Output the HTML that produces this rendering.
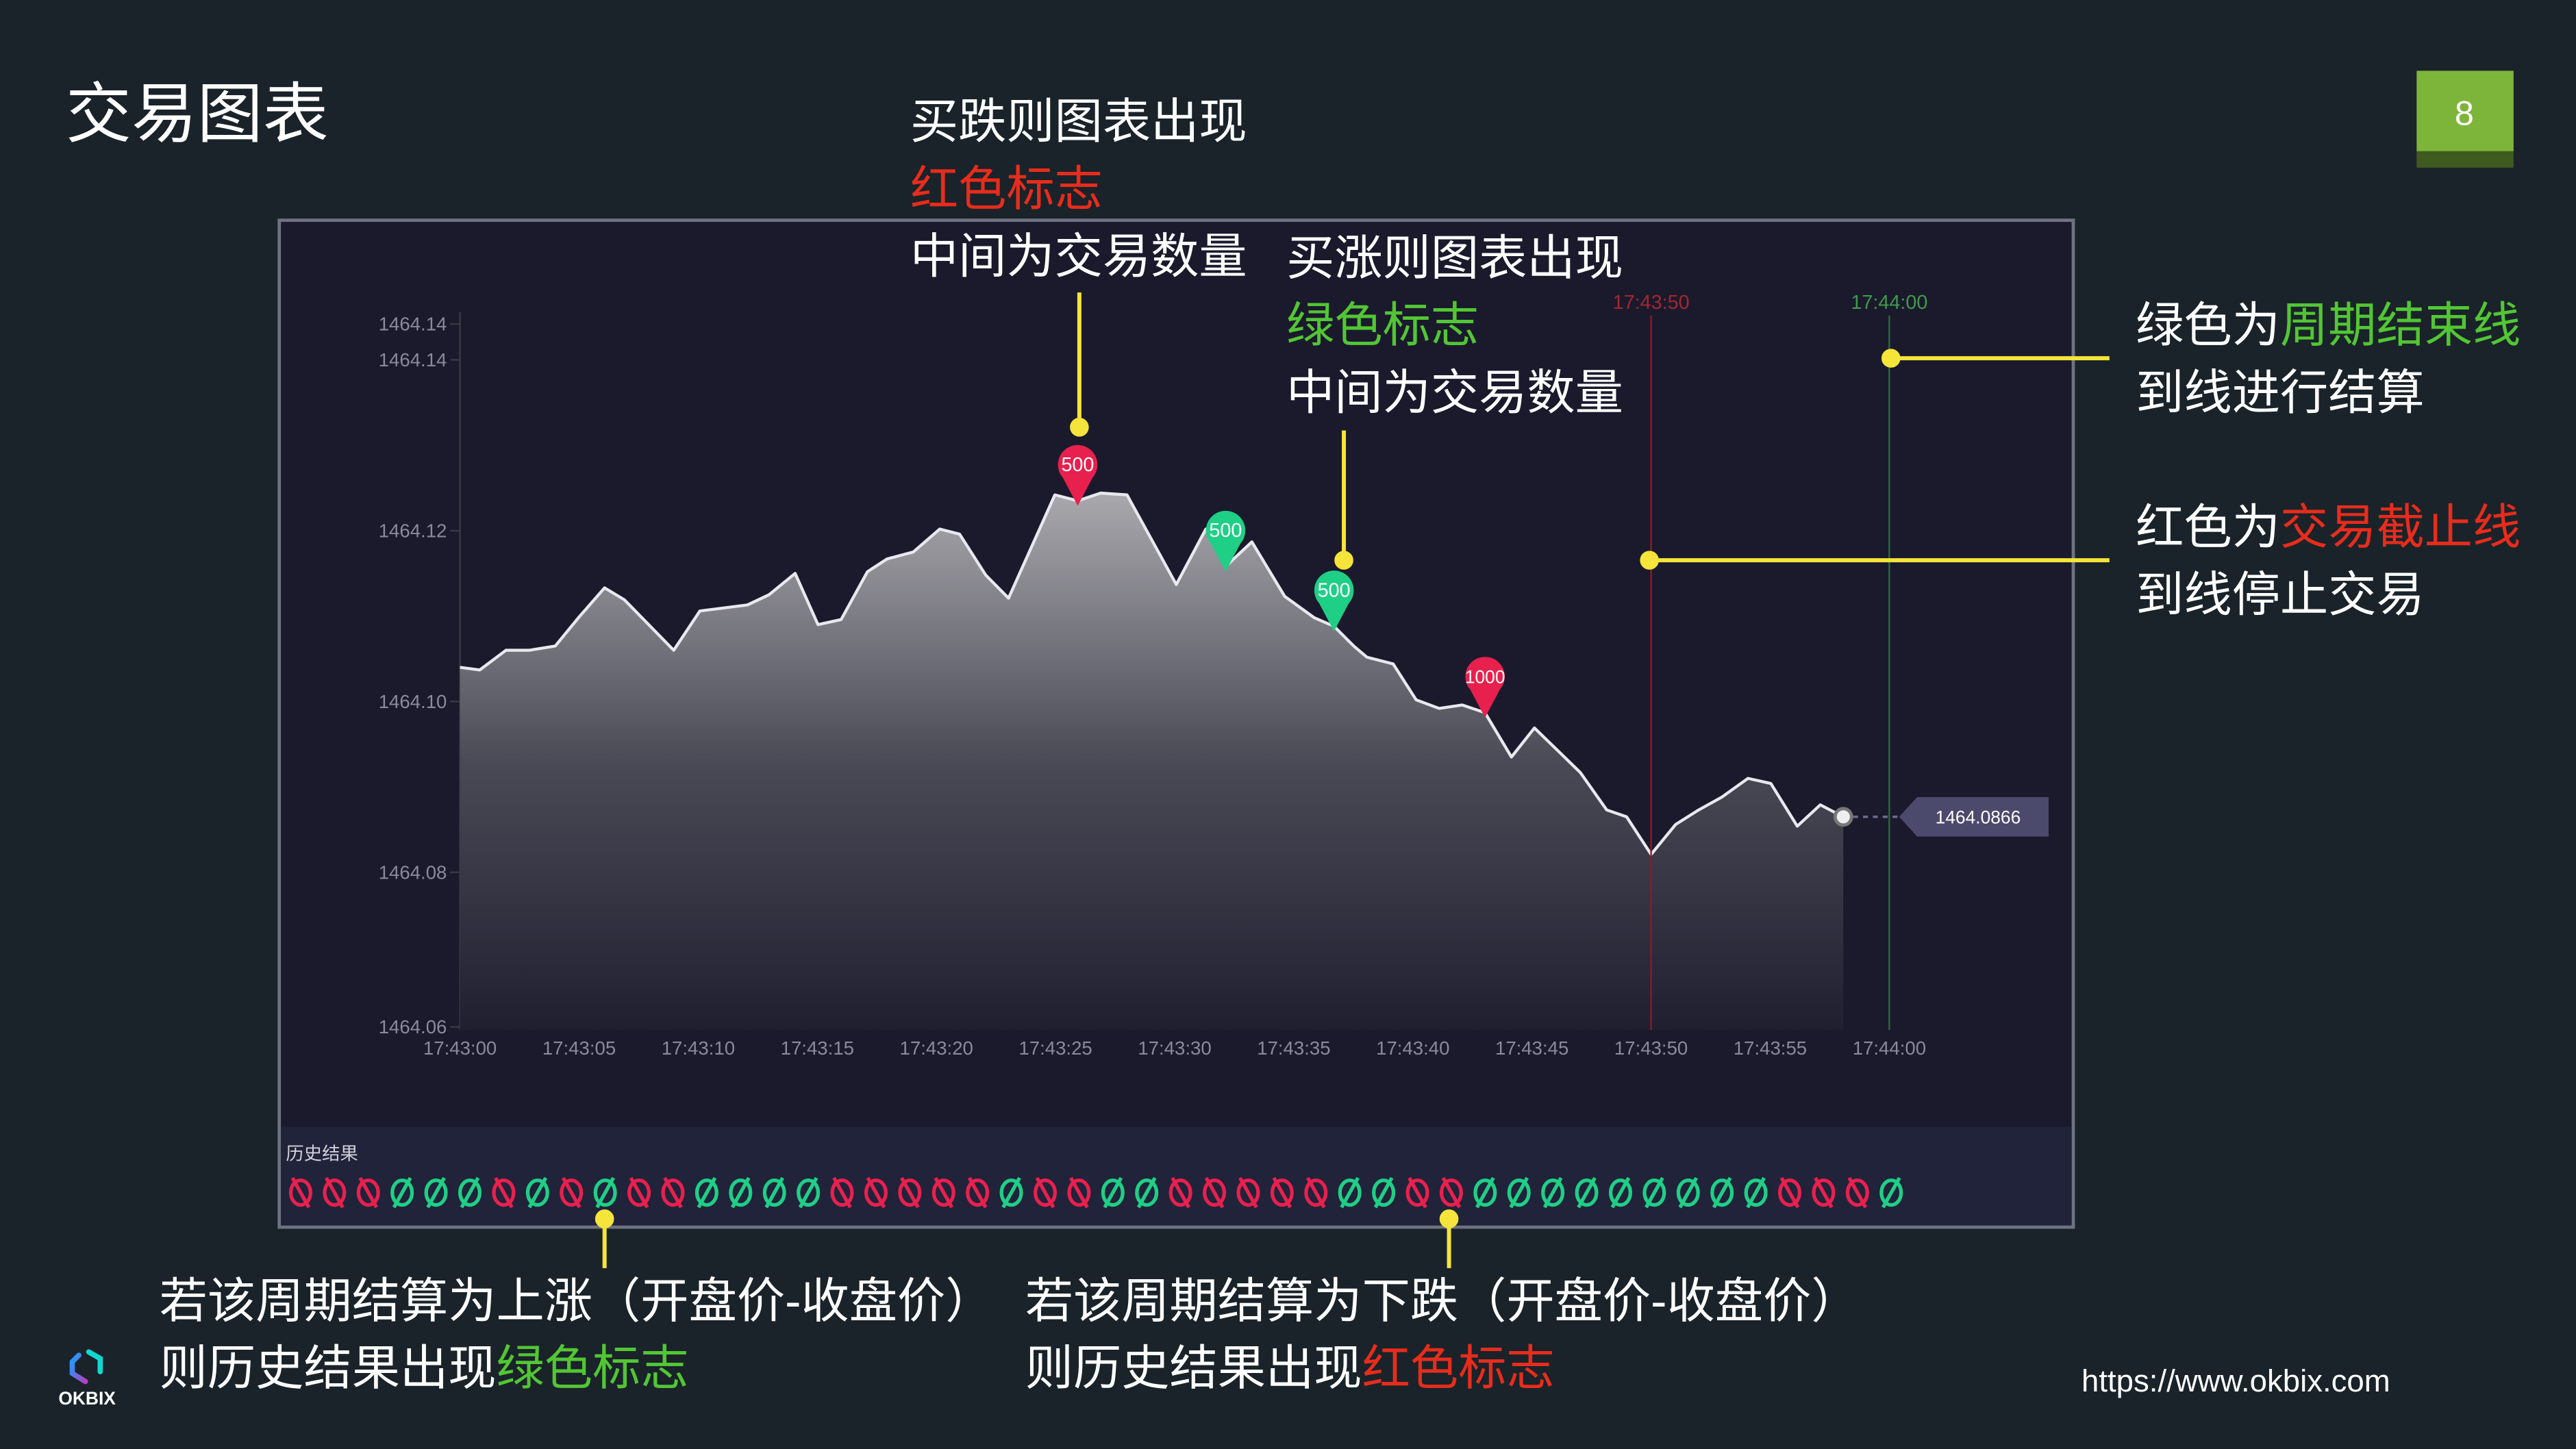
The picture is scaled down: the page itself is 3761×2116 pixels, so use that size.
<!DOCTYPE html>
<html><head><meta charset="utf-8"><style>
html,body{margin:0;padding:0;background:#1a2329;}
svg{display:block}
text{font-family:"Liberation Sans","Noto Sans CJK SC",sans-serif;}
</style></head><body>
<svg id="s" width="3761" height="2116" viewBox="0 0 1568 882" xmlns="http://www.w3.org/2000/svg">
<defs>
<linearGradient id="ag" x1="0" y1="0" x2="0" y2="1">
<stop offset="0" stop-color="#a9a8ad"/><stop offset="0.5" stop-color="#4a4a56"/><stop offset="1" stop-color="#1f1f30"/>
</linearGradient>
<linearGradient id="lg" x1="0" y1="0" x2="1" y2="1">
<stop offset="0" stop-color="#1aa0ff"/><stop offset="1" stop-color="#b040c0"/>
</linearGradient>
</defs>
<rect width="1568" height="882" fill="#1a2329"/>
<text x="40" y="83" font-size="40" fill="#ffffff">交易图表</text>
<g>
<rect x="1471" y="43" width="59" height="49" fill="#7db53a"/>
<rect x="1471" y="92" width="59" height="10" fill="#3f5a1e"/>
<text x="1500" y="76" font-size="21" fill="#fff" text-anchor="middle">8</text>
</g>
<g>
<rect x="170" y="134" width="1092" height="613" fill="#1a1a2c" stroke="#6f7280" stroke-width="2"/>
<rect x="171" y="686" width="1090" height="60" fill="#20233a"/>
</g>
<g id="chart"></g>
<text x="174" y="706" font-size="11" fill="#d0d0d8">历史结果</text>
<g id="hist"></g>
<g font-size="29.3">
<text x="554" y="84" fill="#fff">买跌则图表出现</text>
<text x="554" y="125" fill="#e82c1c">红色标志</text>
<text x="554" y="166" fill="#fff">中间为交易数量</text>
</g>
<g font-size="29.3">
<text x="783" y="167" fill="#fff">买涨则图表出现</text>
<text x="783" y="208" fill="#52c634">绿色标志</text>
<text x="783" y="249" fill="#fff">中间为交易数量</text>
</g>
<g font-size="29.3">
<text x="1300" y="208" fill="#fff">绿色为<tspan fill="#52c634">周期结束线</tspan></text>
<text x="1300" y="249" fill="#fff">到线进行结算</text>
</g>
<g font-size="29.3">
<text x="1300" y="331" fill="#fff">红色为<tspan fill="#e82c1c">交易截止线</tspan></text>
<text x="1300" y="372" fill="#fff">到线停止交易</text>
</g>
<g font-size="29.3">
<text x="97" y="802" fill="#fff">若该周期结算为上涨（开盘价-收盘价）</text>
<text x="97" y="843" fill="#fff">则历史结果出现<tspan fill="#52c634">绿色标志</tspan></text>
</g>
<g font-size="29.3">
<text x="624" y="802" fill="#fff">若该周期结算为下跌（开盘价-收盘价）</text>
<text x="624" y="843" fill="#fff">则历史结果出现<tspan fill="#e82c1c">红色标志</tspan></text>
</g>
<g stroke="#f5e43a" stroke-width="2.5" fill="#f5e43a">
<line x1="657" y1="178" x2="657" y2="260"/><circle cx="657" cy="260" r="4.5"/>
<line x1="818" y1="262" x2="818" y2="341"/><circle cx="818" cy="341" r="4.5"/>
<line x1="1151" y1="218" x2="1284" y2="218"/><circle cx="1151" cy="218" r="4.5"/>
<line x1="1004" y1="341" x2="1284" y2="341"/><circle cx="1004" cy="341" r="4.5"/>
<line x1="368" y1="742" x2="368" y2="772"/><circle cx="368" cy="742" r="4.5"/>
<line x1="882" y1="742" x2="882" y2="772"/><circle cx="882" cy="742" r="4.5"/>
</g>
<g>
<path d="M48 825 L44 829 L44 836 L52 841" fill="none" stroke="url(#lg)" stroke-width="3.2" stroke-linecap="round"/>
<path d="M54 823 L61 827 L61 835" fill="none" stroke="#10d8d0" stroke-width="3.2" stroke-linecap="round"/>
<text x="53" y="855" font-size="11" font-weight="bold" fill="#fff" text-anchor="middle">OKBIX</text>
</g>
<text x="1267" y="847" font-size="19" fill="#fff">https://www.okbix.com</text>
</svg>
<script>
const times=[0,0.83,1.93,2.9,4,4.97,6.07,6.9,8.97,10.07,12.07,12.97,14.07,15.03,16,17.1,17.93,19.03,20.14,20.97,22.07,23.03,24.97,25.93,26.9,28,30.07,31.31,32.14,33.24,34.62,35.86,36.69,37.52,38.07,39.17,40.14,41.1,42.07,43.03,44.14,45.1,47.03,48.14,48.97,50,51.03,52,52.97,54.07,55.03,56.14,57.1,58.07];
const prices=[1464.1040,1464.1037,1464.1060,1464.1060,1464.1065,1464.1098,1464.1133,1464.1119,1464.1060,1464.1106,1464.1113,1464.1125,1464.1150,1464.1090,1464.1096,1464.1152,1464.1167,1464.1175,1464.1202,1464.1196,1464.1148,1464.1121,1464.1242,1464.1235,1464.1244,1464.1242,1464.1137,1464.1202,1464.1158,1464.1187,1464.1123,1464.1098,1464.1088,1464.1065,1464.1052,1464.1044,1464.1002,1464.0992,1464.0996,1464.0987,1464.0935,1464.0969,1464.0917,1464.0873,1464.0865,1464.0821,1464.0856,1464.0873,1464.0888,1464.0910,1464.0904,1464.0854,1464.0879,1464.0865];
const yTickValues=[1464.1442,1464.14,1464.12,1464.10,1464.08,1464.0619];
const xTickSeconds=[0,5,10,15,20,25,30,35,40,45,50,55,60];
const xTickLabels=["17:43:00","17:43:05","17:43:10","17:43:15","17:43:20","17:43:25","17:43:30","17:43:35","17:43:40","17:43:45","17:43:50","17:43:55","17:44:00"];
const markerIdx=[23,28,32,39];
const markerSide=["sell","buy","buy","sell"];
const markerQty=["500","500","500","1000"];
const cutoffSec=50, endSec=60, endLabel="17:44:00", cutoffLabel="17:43:50";
const lastPriceLabel="1464.0866";
const history="RRRGGGRGRGRRGGGGRRRRRGRRGGRRRRRGGRRGGGGGGGGGRRRG".split("");

const NS="http://www.w3.org/2000/svg";
function mk(tag,attrs,parent){const e=document.createElementNS(NS,tag);for(const k in attrs)e.setAttribute(k,attrs[k]);parent.appendChild(e);return e;}
const X=t=>280+t*14.5;
const Y=p=>323+(1464.12-p)*5200;
const g=document.getElementById('chart');
const ya=mk('line',{x1:280,y1:190,x2:280,y2:627,stroke:'#3a3a44','stroke-width':1},g);


yTickValues.forEach(v=>{
  const t=mk('text',{x:272,y:Y(v)+4,'font-size':11.5,fill:'#8a8a9c','text-anchor':'end'},g);
  t.textContent=v.toFixed(2);
  
  
  const tk=mk('line',{x1:274,x2:280,y1:Y(v),y2:Y(v),stroke:'#3a3a44'},g);
  
  
});
xTickSeconds.forEach((s,i)=>{
  const t=mk('text',{x:X(s),y:642,'font-size':11.5,fill:'#8a8a9c','text-anchor':'middle'},g);
  t.textContent=xTickLabels[i];
  
  
});
let d='M'+X(times[0])+','+Y(prices[0]);
for(let i=1;i<times.length;i++)d+=' L'+X(times[i]).toFixed(1)+','+Y(prices[i]).toFixed(1);
const area=mk('path',{d:d+' L'+X(times[times.length-1])+',627 L'+X(times[0])+',627 Z',fill:'url(#ag)'},g);


const line=mk('path',{d:d,fill:'none',stroke:'#e8e8ee','stroke-width':1.8,'stroke-linejoin':'round'},g);


const cl=mk('line',{x1:X(cutoffSec),x2:X(cutoffSec),y1:192,y2:627,stroke:'#8a1c24','stroke-width':1},g);


const ct=mk('text',{x:X(cutoffSec),y:188,'font-size':12,fill:'#a52630','text-anchor':'middle'},g);
ct.textContent=cutoffLabel;


const el=mk('line',{x1:X(endSec),x2:X(endSec),y1:192,y2:627,stroke:'#2c6a3a','stroke-width':1},g);


const et=mk('text',{x:X(endSec),y:188,'font-size':12,fill:'#3f9a4a','text-anchor':'middle'},g);
et.textContent=endLabel;


const li=times.length-1, lx=X(times[li]), ly=Y(prices[li]);
const dash=mk('line',{x1:lx,x2:1158,y1:ly,y2:ly,stroke:'#6a6a90','stroke-dasharray':'3,3','stroke-width':1.5},g);


const dot=mk('circle',{cx:lx,cy:ly,r:5,fill:'#eee',stroke:'#777','stroke-width':2},g);


const tag=mk('path',{d:`M1156,${ly} L1167,${ly-12} L1247,${ly-12} L1247,${ly+12} L1167,${ly+12} Z`,fill:'#4b4a6c'},g);


const tt=mk('text',{x:1204,y:ly+4,'font-size':11,fill:'#fff','text-anchor':'middle'},g);
tt.textContent=lastPriceLabel;


markerIdx.forEach((idx,i)=>{
  const mx=X(times[idx]), my=Y(prices[idx])+3;
  const col=markerSide[i]==='buy'?'#1fcf86':'#e8204e';
  const m=mk('path',{d:`M${mx},${my} L${mx-9},${my-17} A12,12 0 1 1 ${mx+9},${my-17} Z`,fill:col},g);
  
  
  const t=mk('text',{x:mx,y:my-21,'font-size':markerQty[i].length>3?11:12,fill:'#fff','text-anchor':'middle'},g);
  t.textContent=markerQty[i];
  
  
});
const h=document.getElementById('hist');
history.forEach((r,i)=>{
  const cx=183+i*20.6, cy=726, col=r==='G'?'#1fcf86':'#e8204e';
  const gg=mk('g',{},h);
  
  
  mk('ellipse',{cx:cx,cy:cy,rx:6,ry:7.5,fill:'none',stroke:col,'stroke-width':2.2},gg);
  if(r==='G')mk('line',{x1:cx+5,y1:cy-9,x2:cx-5,y2:cy+9,stroke:col,'stroke-width':2.2},gg);
  else mk('line',{x1:cx-5,y1:cy-9,x2:cx+5,y2:cy+9,stroke:col,'stroke-width':2.2},gg);
});
</script>
</body></html>
